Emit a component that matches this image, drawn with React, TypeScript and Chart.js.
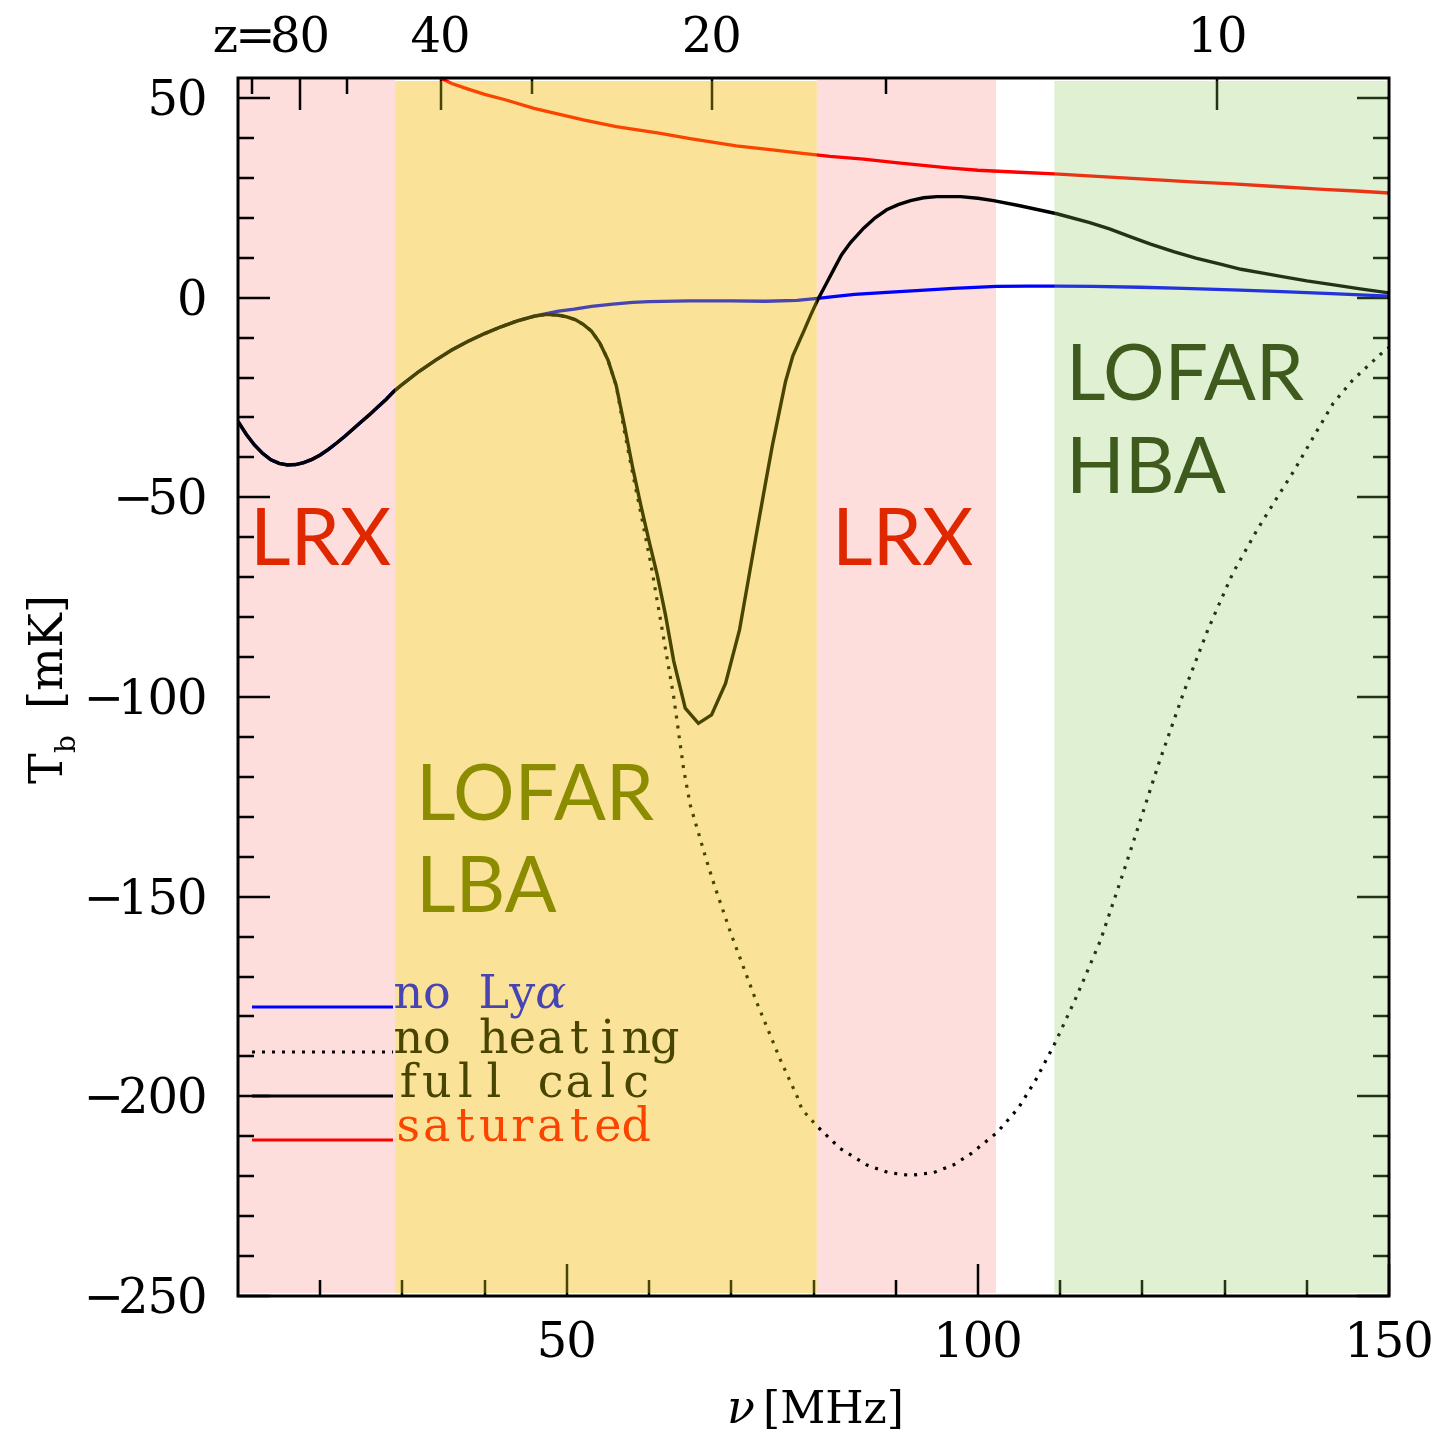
import React, { useEffect, useRef } from 'react';
import { Chart, registerables } from 'chart.js';

Chart.register(...registerables);

// ---------------- data ----------------
const fullNu = [10, 11, 12, 13, 14, 15, 16, 17, 18, 19, 20, 21, 22, 23, 24, 25, 26, 27, 28, 29, 30, 32, 34, 36, 38, 40, 42, 44, 46, 47.5, 49, 50, 51, 52, 53, 54, 55, 56, 57, 58, 59, 60, 61, 62, 63, 64.4, 66.0, 67.6, 69.3, 71.0, 72, 73, 74.2, 75, 76, 76.6, 77.5, 78.9, 79.7, 80.5, 81.5, 82.5, 83.4, 84.5, 86.1, 87.5, 88.9, 90.3, 91.8, 93.4, 95, 97.9, 100, 101.9, 105.1, 109.6, 113.6, 116, 118.5, 121, 123.8, 126.5, 129.5, 132, 135, 137.2, 140, 143.3, 146.5, 150];
const fullT = [-31, -34.2, -36.9, -39.0, -40.6, -41.5, -41.9, -41.8, -41.3, -40.5, -39.4, -38.0, -36.4, -34.7, -32.9, -31.1, -29.3, -27.4, -25.5, -23.4, -21.7, -18.5, -15.7, -13.1, -10.9, -9.0, -7.3, -5.8, -4.7, -4.2, -4.4, -4.8, -5.5, -6.7, -8.4, -11.3, -15.6, -22, -32, -42.5, -52, -61, -69.5, -79.5, -91, -102.8, -106.6, -104.5, -96.6, -83.2, -71.5, -59.8, -46, -37, -27, -21, -14.5, -8, -4.2, -0.6, 3.3, 7.2, 10.7, 13.8, 17.4, 20.0, 22, 23.3, 24.3, 25.0, 25.3, 25.3, 24.9, 24.3, 23.0, 21.0, 18.8, 17.2, 15.3, 13.4, 11.5, 9.9, 8.4, 7.1, 6.0, 5.2, 4.2, 3.2, 2.2, 1.2];

const noLyaNu = [10, 11, 12, 13, 14, 15, 16, 17, 18, 19, 20, 21, 22, 23, 24, 25, 26, 27, 28, 29, 30, 32, 34, 36, 38, 40, 42, 44, 46, 47.5, 49, 50.9, 53, 55.6, 58, 60, 64.9, 70, 74.2, 78, 80.5, 83, 85, 88.9, 93, 97, 102.3, 106, 109.6, 114, 119.7, 125, 131.9, 137, 143, 150];
const noLyaT = [-31, -34.2, -36.9, -39.0, -40.6, -41.5, -41.9, -41.8, -41.3, -40.5, -39.4, -38.0, -36.4, -34.7, -32.9, -31.1, -29.3, -27.4, -25.5, -23.4, -21.7, -18.5, -15.7, -13.1, -10.9, -9.0, -7.3, -5.8, -4.6, -4.0, -3.4, -2.9, -2.2, -1.6, -1.2, -1.0, -0.8, -0.8, -0.9, -0.7, -0.2, 0.4, 0.8, 1.3, 1.8, 2.3, 2.8, 2.9, 2.9, 2.8, 2.6, 2.3, 1.9, 1.5, 1.0, 0.4];

const noHeatNu = [40, 42, 44, 46, 47.5, 49, 50, 51, 52, 53, 54, 55, 56, 57, 58, 59, 60.2, 61.6, 63.0, 64.2, 65, 66, 67, 68, 69, 70, 71, 72, 73, 74, 75, 76, 77, 78, 78.6, 80.4, 83.2, 86.5, 89.1, 91.8, 94.6, 97.0, 99.2, 102.3, 104.9, 107, 109.3, 112, 114.9, 118, 122.1, 125, 128, 131, 134, 136.1, 138.4, 141.2, 143.2, 145.6, 148.9, 150];
const noHeatT = [-9.0, -7.3, -5.8, -4.7, -4.2, -4.4, -4.8, -5.5, -6.7, -8.4, -11.3, -15.6, -22, -33.5, -44, -54, -66.5, -83.2, -100, -118, -127, -134, -141, -147.5, -153.5, -159.5, -165, -170.5, -176, -181, -186, -191, -195.5, -200, -203.3, -207.4, -213, -217.2, -219.1, -219.8, -219.1, -217.2, -214.3, -209.1, -203, -196, -187, -175, -161, -142, -116, -99, -83, -69, -58, -51, -43.5, -33.5, -26.5, -20.6, -14.3, -12.5];

const satNu = [34.6, 36, 38, 40, 42.6, 46, 52, 56, 61.2, 65, 70.6, 75, 78.4, 82, 86.1, 90, 96.4, 100, 105, 109.3, 115, 121.9, 126, 131, 137.2, 142, 146, 150];
const satT = [55, 53.6, 52.2, 50.9, 49.5, 47.4, 44.5, 42.8, 41.2, 39.8, 38.0, 37.0, 36.2, 35.4, 34.7, 33.8, 32.5, 31.9, 31.4, 31.0, 30.3, 29.5, 29.0, 28.5, 27.7, 27.1, 26.7, 26.2];

// axis ticks
const yMajorTicks = [-250, -200, -150, -100, -50, 0, 50];
const yMinorTicks = [-240, -230, -220, -210, -190, -180, -170, -160, -140, -130, -120, -110, -90, -80, -70, -60, -40, -30, -20, -10, 10, 20, 30, 40];
const xMajorTicks = [50, 100, 150];
const xMinorTicks = [20, 30, 40, 60, 70, 80, 90, 110, 120, 130, 140];
const zMajorTicks = [80, 40, 20, 10];
const zMinorTicks = [120, 60, 30, 15];
const NU21 = 1420.4;

// shaded instrument bands [from, to] in MHz
const pinkBands = [[10, 29.1], [80.4, 102.2]];
const lbaBand = [29.1, 80.4];
const hbaBand = [109.3, 150];

const legendLabels = ['no Lyα', 'no heating', 'full calc', 'saturated'];

// ---------------- drawing helpers ----------------
const SERIF = '"DejaVu Serif", serif';

function drawMono(ctx: CanvasRenderingContext2D, text: string, x: number, y: number, adv: number, align: 'left' | 'right' | 'center', font: string, italicIdx: number[] = [], italicFont = '') {
  const chars = Array.from(text);
  const w = chars.length * adv;
  let x0 = x;
  if (align === 'right') x0 = x - w;
  else if (align === 'center') x0 = x - w / 2;
  ctx.textAlign = 'center';
  ctx.textBaseline = 'alphabetic';
  chars.forEach((c, i) => {
    ctx.font = italicIdx.includes(i) ? italicFont : font;
    ctx.fillText(c, x0 + (i + 0.5) * adv, y);
  });
}

const decoPlugin = {
  id: 'deco',
  beforeDraw(chart: any) {
    const { ctx, chartArea: a, scales } = chart;
    const xs = scales.x, ys = scales.y;
    ctx.save();
    ctx.fillStyle = '#ffffff';
    ctx.fillRect(0, 0, chart.width, chart.height);

    const top = a.top + 3, h = a.bottom - a.top - 6;
    // pink bands
    ctx.fillStyle = 'rgb(253,222,221)';
    for (const [f, t] of pinkBands) {
      const x0 = xs.getPixelForValue(f), x1 = xs.getPixelForValue(t);
      ctx.fillRect(x0, top - 1, x1 - x0, h + 1);
    }
    // underlays for overlay bands
    {
      const x0 = xs.getPixelForValue(lbaBand[0]), x1 = xs.getPixelForValue(lbaBand[1]);
      ctx.fillStyle = 'rgb(255,226,218)';
      ctx.fillRect(x0, top, x1 - x0, h);
    }
    {
      const x0 = xs.getPixelForValue(hbaBand[0]), x1 = xs.getPixelForValue(hbaBand[1]) - 2;
      ctx.fillStyle = 'rgb(241,241,242)';
      ctx.fillRect(x0, top, x1 - x0, h);
    }

    // ticks
    ctx.strokeStyle = '#000';
    ctx.lineWidth = 2.5;
    ctx.beginPath();
    const MAJ = 32, MIN = 16;
    for (const v of yMajorTicks) {
      const p = Math.round(ys.getPixelForValue(v));
      ctx.moveTo(a.left, p); ctx.lineTo(a.left + MAJ, p);
      ctx.moveTo(a.right, p); ctx.lineTo(a.right - MAJ, p);
    }
    for (const v of yMinorTicks) {
      const p = Math.round(ys.getPixelForValue(v));
      ctx.moveTo(a.left, p); ctx.lineTo(a.left + MIN, p);
      ctx.moveTo(a.right, p); ctx.lineTo(a.right - MIN, p);
    }
    for (const v of xMajorTicks) {
      const p = Math.round(xs.getPixelForValue(v));
      ctx.moveTo(p, a.bottom); ctx.lineTo(p, a.bottom - MAJ);
    }
    for (const v of xMinorTicks) {
      const p = Math.round(xs.getPixelForValue(v));
      ctx.moveTo(p, a.bottom); ctx.lineTo(p, a.bottom - MIN);
    }
    for (const z of zMajorTicks) {
      const p = Math.round(xs.getPixelForValue(NU21 / (1 + z)));
      ctx.moveTo(p, a.top); ctx.lineTo(p, a.top + MAJ);
    }
    for (const z of zMinorTicks) {
      const p = Math.round(xs.getPixelForValue(NU21 / (1 + z)));
      ctx.moveTo(p, a.top); ctx.lineTo(p, a.top + MIN);
    }
    ctx.stroke();

    // legend
    const legColors = ['#0000ff', '#000000', '#000000', '#ff0000'];
    const legY = [1007, 1052, 1096, 1140];
    legendLabels.forEach((lab, i) => {
      ctx.save();
      ctx.strokeStyle = legColors[i];
      ctx.lineWidth = 3;
      if (i === 1) ctx.setLineDash([3, 7]);
      ctx.beginPath();
      ctx.moveTo(252, legY[i]);
      ctx.lineTo(393, legY[i]);
      ctx.stroke();
      ctx.restore();
      ctx.fillStyle = legColors[i];
      drawMono(ctx, lab, 394, legY[i] + 1, 28.5, 'left', `46px ${SERIF}`, i === 0 ? [5] : [], `italic 46px ${SERIF}`);
    });

    // tick labels
    ctx.fillStyle = '#000';
    const TF = `48px ${SERIF}`;
    for (const v of yMajorTicks) {
      const p = ys.getPixelForValue(v);
      const s = v < 0 ? '\u2212' + Math.abs(v) : String(v);
      drawMono(ctx, s, 207, p + 17, 29.5, 'right', TF);
    }
    for (const v of xMajorTicks) {
      drawMono(ctx, String(v), xs.getPixelForValue(v), 1357, 29.5, 'center', TF);
    }
    zMajorTicks.forEach((z, i) => {
      const p = xs.getPixelForValue(NU21 / (1 + z));
      drawMono(ctx, String(z), p, 52, 29.5, 'center', TF);
      if (i === 0) drawMono(ctx, 'z=', p - 29.5, 52, 30, 'right', TF);
    });

    // axis titles
    ctx.textAlign = 'left';
    ctx.textBaseline = 'alphabetic';
    ctx.font = `italic 46px ${SERIF}`;
    ctx.fillText('ν', 727, 1423);
    ctx.font = `44px ${SERIF}`;
    ctx.fillText('[MHz]', 763, 1423);

    ctx.save();
    ctx.translate(62, 786);
    ctx.rotate(-Math.PI / 2);
    ctx.textAlign = 'left';
    ctx.font = `46px ${SERIF}`;
    ctx.fillText('T', 2, 0);
    ctx.font = `28px ${SERIF}`;
    ctx.fillText('b', 33, 13);
    ctx.font = `46px ${SERIF}`;
    ctx.fillText('[mK]', 77, 0);
    ctx.restore();

    ctx.restore();
  },
  afterDatasetsDraw(chart: any) {
    const { ctx, chartArea: a, scales } = chart;
    const xs = scales.x;
    ctx.save();
    const top = a.top + 3, h = a.bottom - a.top - 6;
    {
      const x0 = xs.getPixelForValue(lbaBand[0]), x1 = xs.getPixelForValue(lbaBand[1]);
      ctx.fillStyle = 'rgba(240,227,0,0.3)';
      ctx.fillRect(x0, top, x1 - x0, h);
    }
    {
      const x0 = xs.getPixelForValue(hbaBand[0]), x1 = xs.getPixelForValue(hbaBand[1]) - 2;
      ctx.fillStyle = 'rgba(159,236,100,0.22)';
      ctx.fillRect(x0, top, x1 - x0, h);
    }

    // annotation texts
    ctx.textAlign = 'left';
    ctx.textBaseline = 'alphabetic';
    ctx.font = '79px Lato';
    ctx.fillStyle = 'rgb(224,40,0)';
    ctx.fillText('LRX', 250, 565);
    ctx.fillText('LRX', 832, 565);
    ctx.font = '77px Lato';
    ctx.fillStyle = 'rgb(140,140,0)';
    ctx.fillText('LOFAR', 416, 820);
    ctx.fillText('LBA', 416, 912);
    ctx.fillStyle = 'rgb(62,90,28)';
    ctx.fillText('LOFAR', 1066, 400);
    ctx.fillText('HBA', 1066, 493);

    // frame
    ctx.strokeStyle = '#000';
    ctx.lineWidth = 3;
    ctx.strokeRect(a.left, a.top, a.right - a.left, a.bottom - a.top);
    ctx.restore();
  },
};

const pts = (nu: number[], t: number[]) => nu.map((x, i) => ({ x, y: t[i] }));

export default function App() {
  const ref = useRef<HTMLCanvasElement>(null);
  useEffect(() => {
    document.body.style.margin = '0';
    const chart = new Chart(ref.current!, {
      type: 'line',
      data: {
        datasets: [
          { label: 'full calc', data: pts(fullNu, fullT), borderColor: '#000000', borderWidth: 3.4, pointRadius: 0, tension: 0 },
          { label: 'no heating', data: pts(noHeatNu, noHeatT), borderColor: '#000000', borderWidth: 3.2, borderDash: [3, 7], borderCapStyle: 'butt', pointRadius: 0, tension: 0 },
          { label: 'no Lyα', data: pts(noLyaNu, noLyaT), borderColor: '#0000ff', borderWidth: 3.3, pointRadius: 0, tension: 0 },
          { label: 'saturated', data: pts(satNu, satT), borderColor: '#ff0000', borderWidth: 3.3, pointRadius: 0, tension: 0 },
        ],
      } as any,
      options: {
        responsive: false,
        animation: false,
        devicePixelRatio: 1,
        events: [],
        layout: { padding: { left: 238, right: 49, top: 78, bottom: 138 } },
        plugins: { legend: { display: false }, tooltip: { enabled: false } },
        scales: {
          x: { type: 'linear', min: 10, max: 150, display: false },
          y: { type: 'linear', min: -250, max: 55, display: false },
        },
      } as any,
      plugins: [decoPlugin],
    });
    return () => chart.destroy();
  }, []);
  return (
    <div style={{ position: 'absolute', left: 0, top: 0, width: 1438, height: 1434 }}>
      <canvas ref={ref} width={1438} height={1434} style={{ width: 1438, height: 1434, display: 'block' }} />
    </div>
  );
}
